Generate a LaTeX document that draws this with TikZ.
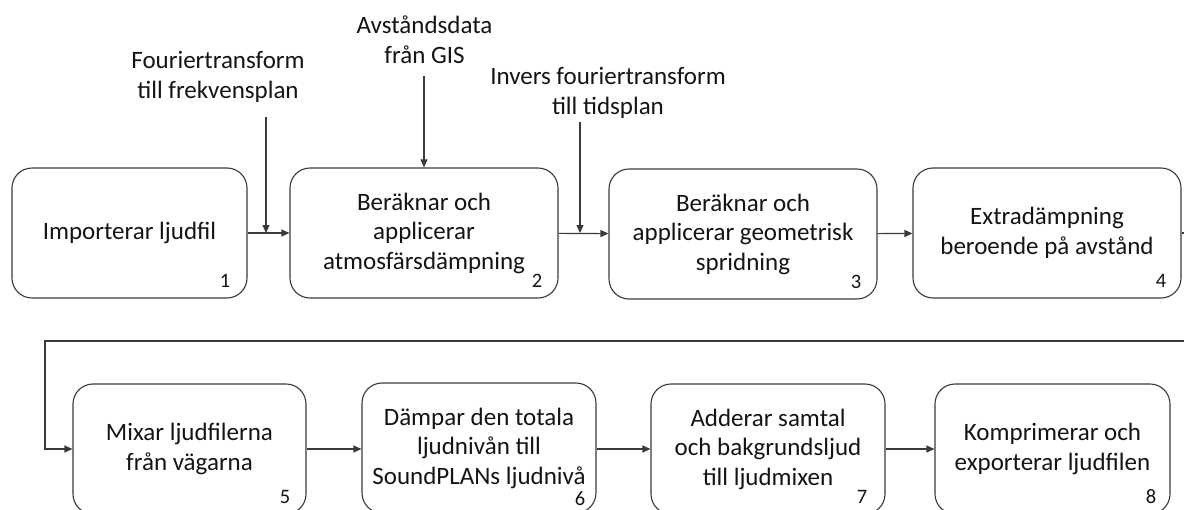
\documentclass[tikz,border=0pt]{standalone}
\usepackage{fontspec}
\setmainfont{Carlito}
\usetikzlibrary{arrows.meta}
\definecolor{linec}{HTML}{3A3A3A}
\definecolor{txt}{HTML}{141414}
\begin{document}
\begin{tikzpicture}[x=1pt,y=-1pt,
  box/.style={draw=linec, line width=1.1pt, rounded corners=20pt, align=center,
    font=\fontsize{25}{29.5}\selectfont, text=txt, inner sep=0pt, minimum height=130pt},
  lbl/.style={align=center, font=\fontsize{25}{29.5}\selectfont, text=txt, inner sep=0pt},
  num/.style={font=\fontsize{20.5}{24}\selectfont, text=txt, inner sep=0pt, anchor=base east},
  conn/.style={draw=linec, line width=1.1pt, -{Triangle[length=8pt,width=7pt]}}]
\useasboundingbox (0,0) rectangle (1184,509);
\clip (0,0) rectangle (1184,509);
% top row
\node[box, minimum width=235pt] (b1) at (129.5,233) {Importerar ljudfil};
\node[box, minimum width=268pt] (b2) at (424,233) {Beräknar och\\applicerar\\atmosfärsdämpning};
\node[box, minimum width=268pt] (b3) at (743,234) {Beräknar och\\applicerar geometrisk\\spridning};
\node[box, minimum width=268pt] (b4) at (1047,233) {Extradämpning\\beroende på avstånd};
% bottom row
\node[box, minimum width=233pt] (b5) at (189.5,449) {Mixar ljudfilerna\\från vägarna};
\node[box, minimum width=234pt] (b6) at (479,448) {Dämpar den totala\\ljudnivån till\\SoundPLANs ljudnivå};
\node[box, minimum width=234pt] (b7) at (768,449) {Adderar samtal\\och bakgrundsljud\\till ljudmixen};
\node[box, minimum width=235pt] (b8) at (1052.5,449) {Komprimerar och\\exporterar ljudfilen};
% numbers
\node[num] (n1) at ([xshift=-17pt,yshift=11pt]b1.south east) {1};
\node[num] (n2) at ([xshift=-16pt,yshift=11pt]b2.south east) {2};
\node[num] (n3) at ([xshift=-16pt,yshift=11pt]b3.south east) {3};
\node[num] (n4) at ([xshift=-15pt,yshift=11pt]b4.south east) {4};
\node[num] (n5) at ([xshift=-16pt,yshift=11pt]b5.south east) {5};
\node[num] (n6) at ([xshift=-11pt,yshift=8pt]b6.south east) {6};
\node[num] (n7) at ([xshift=-18pt,yshift=11pt]b7.south east) {7};
\node[num] (n8) at ([xshift=-14pt,yshift=11pt]b8.south east) {8};
% input labels
\node[lbl] (t1) at (218,77) {Fouriertransform\\till frekvensplan};
\node[lbl] (t2) at (424.5,39.5) {Avståndsdata\\från GIS};
\node[lbl] (t3) at (608,93) {Invers fouriertransform\\till tidsplan};
\coordinate (f1) at (266,117);
\coordinate (a1) at (424,76);
\coordinate (i1) at (580,122);
\coordinate (turnR) at (1200,341);
\coordinate (turnL) at (45,341);
% connectors
\draw[conn] (b1) -- (b2);
\draw[conn] (b2) -- (b3);
\draw[conn] (b3) -- (b4);
\draw[conn] (f1) -- (f1 |- b1.east);
\draw[conn] (a1) -- (a1 |- b2.north);
\draw[conn] (i1) -- (i1 |- b2.east);
\draw[conn] (b4.east) -| (turnR) -- (turnL) |- (b5.west);
\draw[conn] (b5) -- (b6.west |- b5.east);
\draw[conn] (b6.east |- b7.west) -- (b7);
\draw[conn] (b7) -- (b8);
\end{tikzpicture}
\end{document}
